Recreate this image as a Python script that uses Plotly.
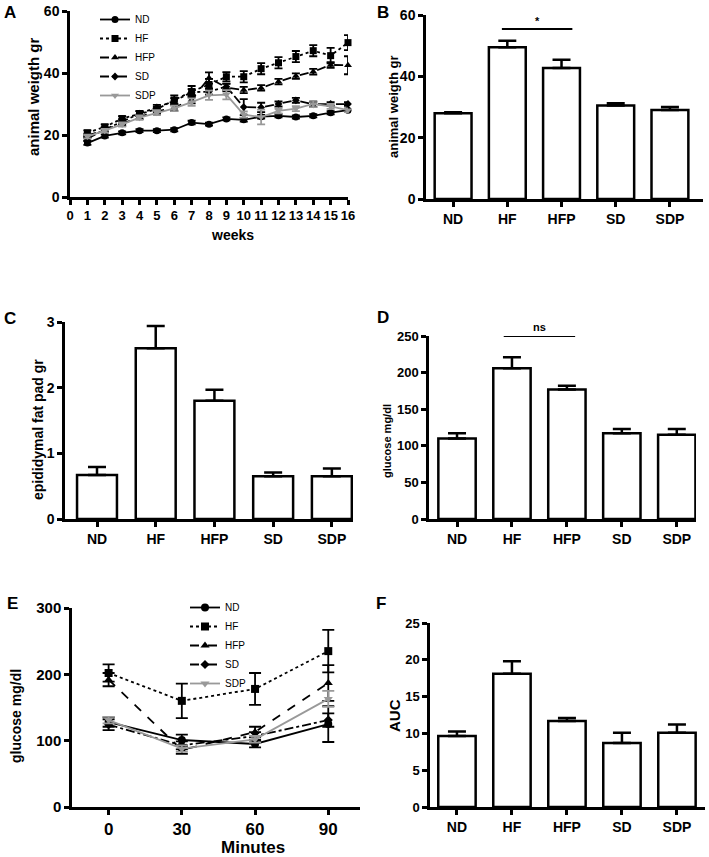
import plotly.graph_objects as go

W, H = 709, 857

# ---------------- data ----------------
groups = ["ND", "HF", "HFP", "SD", "SDP"]

weeks = list(range(1, 17))
wA_ND = [17.4, 19.7, 20.7, 21.4, 21.4, 21.7, 24.0, 23.5, 25.2, 24.9, 25.9, 26.2, 25.8, 26.2, 27.2, 28.0]
wA_ND_err = [0.6, 0.5, 0.5, 0.5, 0.5, 0.5, 0.6, 0.5, 0.5, 0.6, 0.6, 0.5, 0.5, 0.5, 0.5, 0.5]
wA_HF = [20.7, 22.6, 25.3, 26.9, 28.3, 31.3, 34.0, 36.3, 38.8, 38.8, 41.4, 43.3, 45.3, 47.2, 45.6, 49.8]
wA_HF_err = [0.8, 0.8, 0.8, 0.8, 0.8, 1.5, 1.8, 1.8, 1.5, 1.8, 1.8, 1.8, 1.8, 1.8, 2.5, 2.4]
wA_HFP = [19.8, 21.6, 23.6, 25.8, 27.6, 28.8, 31.4, 38.4, 35.3, 34.5, 35.2, 37.2, 39.0, 40.4, 42.6, 42.5]
wA_HFP_err = [0.6, 0.6, 0.7, 0.7, 0.8, 1.0, 1.2, 1.8, 1.2, 1.0, 0.9, 0.9, 0.9, 0.9, 0.9, 2.9]
wA_SD = [18.8, 21.8, 24.3, 26.9, 28.9, 31.0, 33.8, 34.0, 35.6, 29.0, 28.9, 30.0, 31.2, 29.9, 30.0, 30.0]
wA_SD_err = [0.6, 0.7, 0.8, 0.8, 0.8, 0.9, 1.0, 1.0, 1.0, 2.6, 1.5, 0.8, 0.8, 0.8, 0.6, 0.6]
wA_SDP = [19.5, 21.4, 23.4, 25.6, 27.2, 28.6, 30.6, 32.8, 33.0, 26.6, 25.8, 27.8, 28.5, 30.0, 29.2, 28.0]
wA_SDP_err = [0.6, 0.6, 0.7, 0.7, 0.8, 0.9, 1.2, 1.5, 1.5, 1.0, 2.4, 0.8, 0.8, 1.0, 0.8, 0.6]

weightB = [28.0, 49.5, 42.7, 30.5, 29.0]
weightB_err = [0.3, 2.1, 2.7, 0.7, 1.0]

fatC = [0.67, 2.60, 1.80, 0.65, 0.65]
fatC_err = [0.12, 0.34, 0.17, 0.06, 0.12]

glucD = [110, 206, 177, 117, 115]
glucD_err = [7, 15, 5, 6, 8]

minutes = [0, 30, 60, 90]
gE_ND = [128, 101, 95, 125]
gE_ND_err = [7, 8, 5, 27]
gE_HF = [202, 160, 178, 235]
gE_HF_err = [13, 26, 24, 32]
gE_HFP = [192, 86, 113, 187]
gE_HFP_err = [10, 6, 8, 27]
gE_SD = [124, 93, 107, 131]
gE_SD_err = [8, 6, 6, 10]
gE_SDP = [131, 88, 102, 163]
gE_SDP_err = [5, 5, 5, 12]

aucF = [9.65, 18.1, 11.7, 8.7, 10.1]
aucF_err = [0.6, 1.7, 0.4, 1.4, 1.1]

# ---------------- styling helpers ----------------
FONT = "Liberation Sans, Arial, sans-serif"
LW = 2.5

def xd(a, b):
    return [a / W, b / W]

def yd(top, bottom):
    return [1 - bottom / H, 1 - top / H]

fig = go.Figure()

line_styles = {
    "ND": dict(dash="solid", color="black", symbol="circle", size=7),
    "HF": dict(dash="dot", color="black", symbol="square", size=7),
    "HFP": dict(dash="dash", color="black", symbol="triangle-up", size=7),
    "SD": dict(dash="dashdot", color="black", symbol="diamond", size=6),
    "SDP": dict(dash="solid", color="#999999", symbol="triangle-down", size=7),
}

A_series = {
    "ND": (wA_ND, wA_ND_err),
    "HF": (wA_HF, wA_HF_err),
    "HFP": (wA_HFP, wA_HFP_err),
    "SD": (wA_SD, wA_SD_err),
    "SDP": (wA_SDP, wA_SDP_err),
}
for g in groups:
    vals, errs = A_series[g]
    st = line_styles[g]
    fig.add_trace(go.Scatter(
        x=weeks, y=vals, mode="lines+markers", name=g,
        line=dict(color=st["color"], dash=st["dash"], width=1.8),
        marker=dict(symbol=st["symbol"], size=st["size"], color=st["color"]),
        error_y=dict(type="data", array=errs, color=st["color"], thickness=1.8, width=4),
        xaxis="x", yaxis="y", legend="legend", cliponaxis=False,
    ))

E_series = {
    "ND": (gE_ND, gE_ND_err),
    "HF": (gE_HF, gE_HF_err),
    "HFP": (gE_HFP, gE_HFP_err),
    "SD": (gE_SD, gE_SD_err),
    "SDP": (gE_SDP, gE_SDP_err),
}
for g in groups:
    vals, errs = E_series[g]
    st = line_styles[g]
    fig.add_trace(go.Scatter(
        x=minutes, y=vals, mode="lines+markers", name=g,
        line=dict(color=st["color"], dash=st["dash"], width=1.8),
        marker=dict(symbol=st["symbol"], size=st["size"] + 1, color=st["color"]),
        error_y=dict(type="data", array=errs, color=st["color"], thickness=1.8, width=6),
        xaxis="x5", yaxis="y5", legend="legend2", cliponaxis=False,
    ))

def add_bars(vals, errs, xa, ya):
    fig.add_trace(go.Bar(
        x=groups, y=vals, width=0.68,
        marker=dict(color="white", line=dict(color="black", width=LW)),
        error_y=dict(type="data", symmetric=False, array=errs, arrayminus=[0] * len(errs),
                     color="black", thickness=LW, width=9),
        xaxis=xa, yaxis=ya, showlegend=False,
    ))

add_bars(weightB, weightB_err, "x2", "y2")
add_bars(fatC, fatC_err, "x3", "y3")
add_bars(glucD, glucD_err, "x4", "y4")
add_bars(aucF, aucF_err, "x6", "y6")

def axis_common(size):
    return dict(
        showline=True, linewidth=LW, linecolor="black", ticks="outside",
        ticklen=5, tickwidth=LW, tickcolor="black", showgrid=False, zeroline=False,
        tickfont=dict(family=FONT, size=size, color="black", weight="bold"),
        fixedrange=True, automargin=False,
    )

layout = dict(
    template="none",
    width=W, height=H, margin=dict(l=0, r=0, t=0, b=0, pad=0),
    paper_bgcolor="white", plot_bgcolor="rgba(0,0,0,0)",
    font=dict(family=FONT, color="black"),
)

# A
layout["xaxis"] = dict(axis_common(13), domain=xd(70, 348), range=[0, 16], dtick=1, tick0=0,
                       anchor="y")
layout["yaxis"] = dict(axis_common(14), domain=yd(11, 197), range=[0, 60], dtick=20, anchor="x")
# B
layout["xaxis2"] = dict(axis_common(14), domain=xd(426, 703), range=[-0.5, 4.61], anchor="y2",
                        type="category")
layout["yaxis2"] = dict(axis_common(14), domain=yd(15, 199), range=[0, 60], dtick=20, anchor="x2")
# C
layout["xaxis3"] = dict(axis_common(14), domain=xd(65, 353), range=[-0.545, 4.36], anchor="y3",
                        type="category")
layout["yaxis3"] = dict(axis_common(14), domain=yd(322, 519), range=[0, 3], dtick=1, anchor="x3")
# D
layout["xaxis4"] = dict(axis_common(14), domain=xd(429, 696), range=[-0.51, 4.35], anchor="y4",
                        type="category")
layout["yaxis4"] = dict(axis_common(13), domain=yd(336, 519), range=[0, 250], dtick=50, anchor="x4")
# E
layout["xaxis5"] = dict(axis_common(17), domain=xd(72, 360), range=[-15, 103], tickvals=minutes,
                        anchor="y5")
layout["yaxis5"] = dict(axis_common(15), domain=yd(608, 807), range=[0, 300], dtick=100, anchor="x5")
# F
layout["xaxis6"] = dict(axis_common(14), domain=xd(430, 705), range=[-0.49, 4.51], anchor="y6",
                        type="category")
layout["yaxis6"] = dict(axis_common(13), domain=yd(623, 807), range=[0, 25], dtick=5, anchor="x6")

layout["legend"] = dict(x=95 / W, y=1 - 5 / H, xanchor="left", yanchor="top",
                        bgcolor="rgba(0,0,0,0)", itemwidth=30, tracegroupgap=0,
                        font=dict(family=FONT, size=10, color="black"))
layout["legend2"] = dict(x=185 / W, y=1 - 593 / H, xanchor="left", yanchor="top",
                         bgcolor="rgba(0,0,0,0)", itemwidth=30, tracegroupgap=0,
                         font=dict(family=FONT, size=10, color="black"))
fig.update_layout(**layout)

# Significance lines
def sig(xa, ya, x0, x1, y, label, label_y_shift, width=2, size=11):
    fig.add_shape(type="line", xref=xa, yref=ya, x0=x0, x1=x1, y0=y, y1=y,
                  line=dict(color="black", width=width))
    fig.add_annotation(xref=xa, yref=ya, x=(x0 + x1) / 2, y=y, text=label, showarrow=False,
                       yanchor="bottom", yshift=label_y_shift,
                       font=dict(family=FONT, size=size, color="black", weight="bold"))

sig("x2", "y2", 0.9, 2.2, 55.4, "*", 0)
sig("x3", "y3", 0.85, 2.15, 3.1, "*", 0, size=13)
sig("x4", "y4", 0.85, 2.15, 250, "ns", 1, size=11)
sig("x6", "y6", 0.85, 2.15, 25.7, "*", 0, width=3.5, size=11)

# Axis titles (annotations)
def ytitle(text, x, yc, size):
    fig.add_annotation(xref="paper", yref="paper", x=x / W, y=1 - yc / H, text=text,
                       textangle=-90, showarrow=False, xanchor="center", yanchor="middle",
                       font=dict(family=FONT, size=size, color="black", weight="bold"))

ytitle("animal weigth gr", 34, 97, 15)
ytitle("animal weigth gr", 394, 107, 13)
ytitle("epididymal fat pad gr", 38, 430, 14)
ytitle("glucose mg/dl", 387, 441, 11)
ytitle("glucose mg/dl", 16, 716, 14)
ytitle("AUC", 394, 716, 15)

fig.add_annotation(xref="paper", yref="paper", x=209 / W, y=1 - 235 / H, text="weeks",
                   showarrow=False, yanchor="middle",
                   font=dict(family=FONT, size=14, color="black", weight="bold"))
fig.add_annotation(xref="paper", yref="paper", x=219 / W, y=1 - 847 / H, text="Minutes",
                   showarrow=False, yanchor="middle",
                   font=dict(family=FONT, size=17, color="black", weight="bold"))

# Panel letters
for letter, x, y in [("A", 10, 12), ("B", 383, 12), ("C", 10, 318), ("D", 383, 317),
                     ("E", 12, 603), ("F", 381, 603)]:
    fig.add_annotation(xref="paper", yref="paper", x=x / W, y=1 - y / H, text=letter,
                       showarrow=False, xanchor="center", yanchor="middle",
                       font=dict(family=FONT, size=17, color="black", weight="bold"))

fig.write_html("out.html", config={"displayModeBar": False},
               post_script="document.body.style.margin='0';")
